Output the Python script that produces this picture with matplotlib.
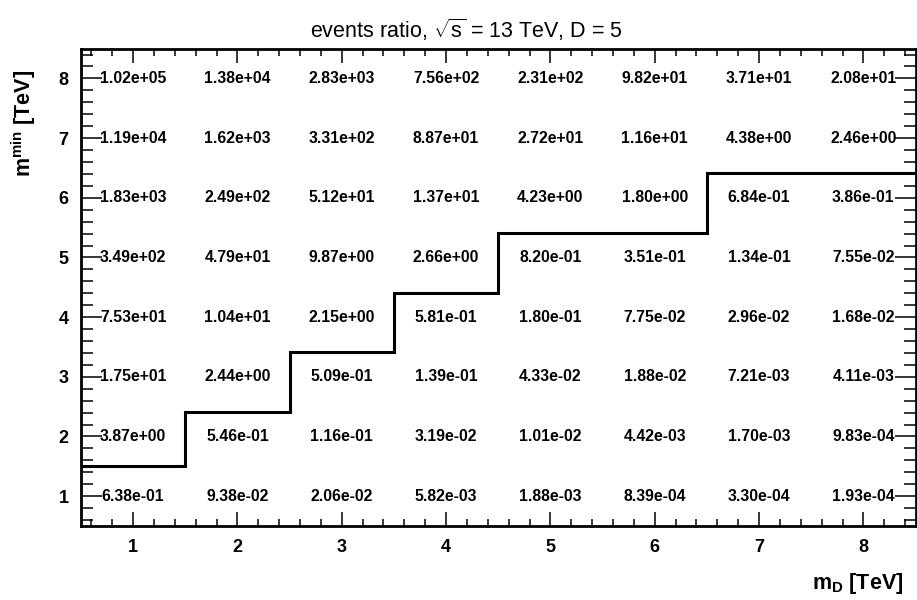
import numpy as np
import matplotlib.pyplot as plt
from matplotlib.ticker import MultipleLocator

plt.rcParams['font.family'] = ['Liberation Sans', 'DejaVu Sans']
plt.rcParams['mathtext.fontset'] = 'custom'
plt.rcParams['mathtext.rm'] = 'Liberation Sans'
plt.rcParams['mathtext.bf'] = 'Liberation Sans:bold'
plt.rcParams['mathtext.it'] = 'Liberation Sans:italic'

# m_D values (columns) and m_min values (rows), TeV
m_D = [1, 2, 3, 4, 5, 6, 7, 8]
m_min = [1, 2, 3, 4, 5, 6, 7, 8]

# events ratio, one list per m_min row
ratio_1 = [6.38e-01, 9.38e-02, 2.06e-02, 5.82e-03, 1.88e-03, 8.39e-04, 3.30e-04, 1.93e-04]
ratio_2 = [3.87e+00, 5.46e-01, 1.16e-01, 3.19e-02, 1.01e-02, 4.42e-03, 1.70e-03, 9.83e-04]
ratio_3 = [1.75e+01, 2.44e+00, 5.09e-01, 1.39e-01, 4.33e-02, 1.88e-02, 7.21e-03, 4.11e-03]
ratio_4 = [7.53e+01, 1.04e+01, 2.15e+00, 5.81e-01, 1.80e-01, 7.75e-02, 2.96e-02, 1.68e-02]
ratio_5 = [3.49e+02, 4.79e+01, 9.87e+00, 2.66e+00, 8.20e-01, 3.51e-01, 1.34e-01, 7.55e-02]
ratio_6 = [1.83e+03, 2.49e+02, 5.12e+01, 1.37e+01, 4.23e+00, 1.80e+00, 6.84e-01, 3.86e-01]
ratio_7 = [1.19e+04, 1.62e+03, 3.31e+02, 8.87e+01, 2.72e+01, 1.16e+01, 4.38e+00, 2.46e+00]
ratio_8 = [1.02e+05, 1.38e+04, 2.83e+03, 7.56e+02, 2.31e+02, 9.82e+01, 3.71e+01, 2.08e+01]
ratios = [ratio_1, ratio_2, ratio_3, ratio_4, ratio_5, ratio_6, ratio_7, ratio_8]

# boundary line (ratio = 1), one level per m_D bin
step_edges = [0.5, 1.5, 2.5, 3.5, 4.5, 5.5, 6.5, 7.5, 8.5]
step_levels = [1.5, 2.41, 3.41, 4.41, 5.41, 5.41, 6.41, 6.41]

fig = plt.figure(figsize=(9.17, 6.0), dpi=100)
ax = fig.add_axes([0.0883, 0.1233, 0.9101, 0.7958])

for i, y in enumerate(m_min):
    for j, x in enumerate(m_D):
        ax.text(x, y, f"{ratios[i][j]:.2e}", ha='center', va='center',
                fontsize=11.3, fontweight='bold', zorder=5)

ax.stairs(step_levels, step_edges, baseline=None, color='black', lw=2.2, zorder=4)

ax.set_xlim(0.5, 8.5)
ax.set_ylim(0.5, 8.5)
ax.xaxis.set_major_locator(MultipleLocator(1))
ax.xaxis.set_minor_locator(MultipleLocator(0.2))
ax.yaxis.set_major_locator(MultipleLocator(1))
ax.yaxis.set_minor_locator(MultipleLocator(0.2))

ax.tick_params(axis='both', which='both', direction='in', top=True, right=True, width=1.1)
ax.tick_params(axis='x', which='major', length=10, pad=9, labelsize=13)
ax.tick_params(axis='x', which='minor', length=5)
ax.tick_params(axis='y', which='major', length=15, pad=9, labelsize=13)
ax.tick_params(axis='y', which='minor', length=8.5)
for lab in ax.get_xticklabels() + ax.get_yticklabels():
    lab.set_fontweight('bold')
for s in ax.spines.values():
    s.set_linewidth(2.0)

fig.text(0.509, 0.950, r"events ratio, $\sqrt{\mathrm{s}}$ = 13 TeV, D = 5", ha='center', va='center',
         fontsize=15.5)
fig.text(0.985, 0.006, r"$\mathbf{m_{D}}$ [TeV]", ha='right', va='bottom',
         fontsize=15.5, fontweight='bold')
fig.text(0.026, 0.883, r"$\mathbf{m^{min}}$ [TeV]", ha='center', va='top', rotation=90,
         fontsize=15.5, fontweight='bold')

fig.savefig('out.png', dpi=100)
